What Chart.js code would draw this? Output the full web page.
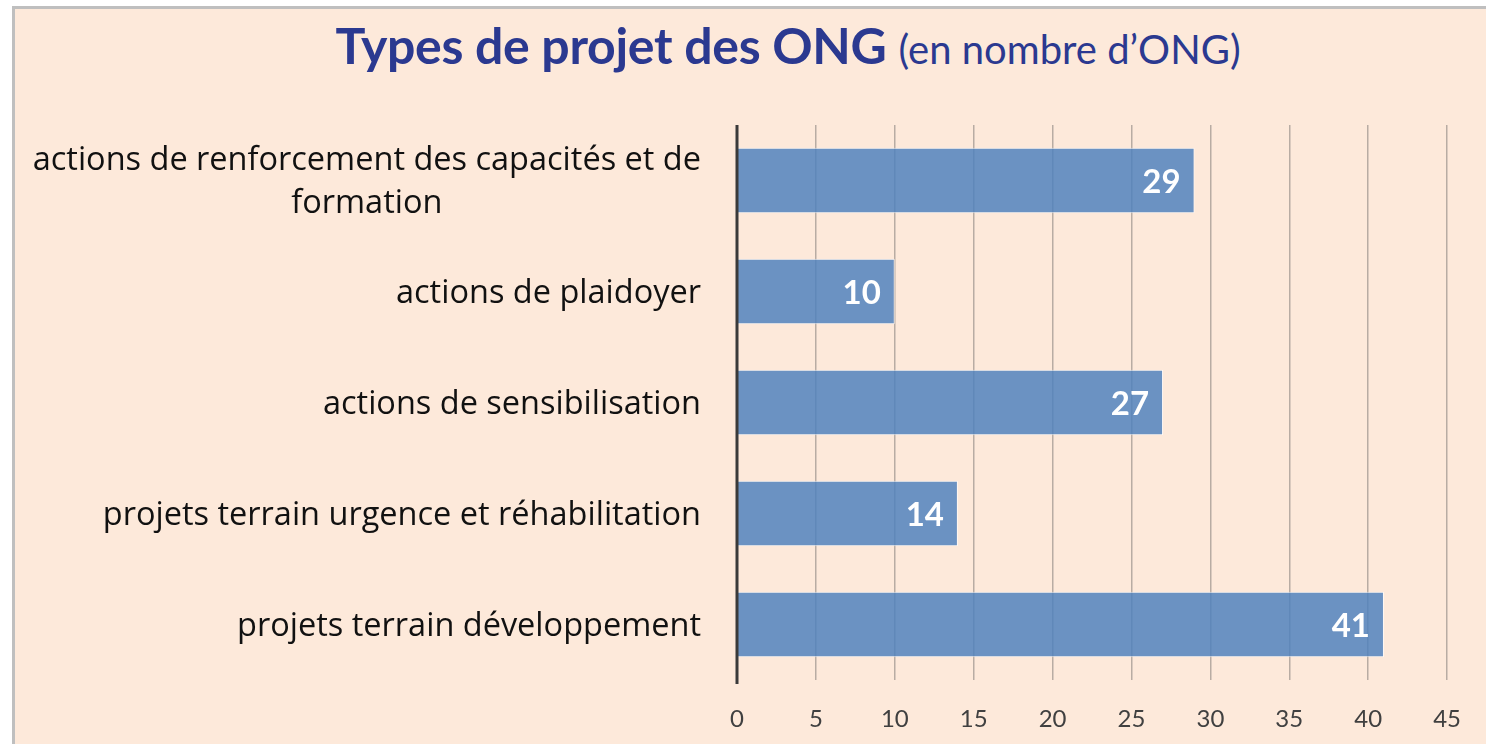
<!DOCTYPE html>
<html>
<head>
<meta charset="utf-8">
<script src="https://cdn.jsdelivr.net/npm/chart.js@4"></script>
<style>
  body { margin: 0; background: #fff; width: 1486px; height: 744px; overflow: hidden; position: relative; }
  #frame { position: absolute; left: 12px; top: 6px; right: 0; bottom: 0; background: #fde9da;
           border-left: 3px solid #bfbfbf; border-top: 3px solid #bfbfbf; }
  #title { position: absolute; left: 90px; width: 1396px; top: 15px; text-align: center; color: #2b3990;
           font-family: Lato, sans-serif; white-space: nowrap; }
  #title b { font-size: 50px; font-weight: 700; letter-spacing: -0.3px; }
  #title span { font-size: 40px; font-weight: 400; margin-left: 8px; }
  #barChart { position: absolute; left: 0; top: 0; }
</style>
</head>
<body>
<div id="frame"></div>
<div id="title"><b>Types de projet des ONG</b> <span>(en nombre d’ONG)</span></div>
<canvas id="barChart" width="1486" height="744"></canvas>
<script>
// categories top to bottom
var categories = [
  ['actions de renforcement des capacités et de', 'formation'],
  'actions de plaidoyer',
  'actions de sensibilisation',
  'projets terrain urgence et réhabilitation',
  'projets terrain développement'
];
var ongCounts = [29, 10, 27, 14, 41];
var xTicks = [0, 5, 10, 15, 20, 25, 30, 35, 40, 45];

var labelFont = '32.5px "Open Sans", sans-serif';

// category labels: block right aligned, lines centered inside the block (like Excel)
var catLabels = {
  id: 'catLabels',
  afterDraw: function(chart) {
    var ctx = chart.ctx, y = chart.scales.y;
    ctx.save();
    ctx.font = labelFont;
    ctx.fillStyle = '#111111';
    ctx.textAlign = 'center';
    ctx.textBaseline = 'middle';
    var lineH = 43, right = 701;
    categories.forEach(function(c, i) {
      var lines = Array.isArray(c) ? c : [c];
      var w = Math.max.apply(null, lines.map(function(l) { return ctx.measureText(l).width; }));
      var cy = y.getPixelForTick(i) + 2;
      var y0 = cy - (lines.length - 1) * lineH / 2;
      lines.forEach(function(l, k) { ctx.fillText(l, right - w / 2, y0 + k * lineH); });
    });
    ctx.restore();
  }
};

// white value labels at the inner end of the bars
var valueLabels = {
  id: 'valueLabels',
  afterDatasetsDraw: function(chart) {
    var ctx = chart.ctx;
    ctx.save();
    ctx.font = 'bold 33px Lato, sans-serif';
    ctx.fillStyle = '#ffffff';
    ctx.textAlign = 'right';
    ctx.textBaseline = 'middle';
    chart.getDatasetMeta(0).data.forEach(function(bar, i) {
      ctx.fillText(ongCounts[i], bar.x - 14, bar.y + 2);
    });
    ctx.restore();
  }
};

// dark left axis line
var axisLine = {
  id: 'axisLine',
  afterDatasetsDraw: function(chart) {
    var a = chart.chartArea, ctx = chart.ctx;
    ctx.save();
    ctx.strokeStyle = '#3a3a3a';
    ctx.lineWidth = 3;
    ctx.beginPath();
    ctx.moveTo(a.left, a.top);
    ctx.lineTo(a.left, a.bottom + 4);
    ctx.stroke();
    ctx.restore();
  }
};

new Chart(document.getElementById('barChart'), {
  type: 'bar',
  data: {
    labels: categories,
    datasets: [{
      data: ongCounts,
      backgroundColor: 'rgba(79,129,189,0.84)',
      borderColor: 'rgba(255,255,255,0.7)',
      borderWidth: 1,
      categoryPercentage: 1,
      barPercentage: 0.59
    }]
  },
  options: {
    indexAxis: 'y',
    responsive: false,
    animation: false,
    layout: { padding: { top: 125, right: 36, left: 0, bottom: 0 } },
    plugins: { legend: { display: false }, tooltip: { enabled: false }, title: { display: false } },
    scales: {
      x: {
        min: 0, max: 45,
        afterBuildTicks: function(s) { s.ticks = xTicks.map(function(v) { return { value: v }; }); },
        afterFit: function(s) { s.height = 64; },
        grid: { color: '#b8aca3', lineWidth: 1.5, drawTicks: false },
        border: { display: false },
        ticks: { color: '#404040', font: { family: 'Lato, sans-serif', size: 24 }, padding: 25 }
      },
      y: {
        afterFit: function(s) { s.width = 737; },
        grid: { display: false },
        border: { display: false },
        ticks: { display: false }
      }
    }
  },
  plugins: [catLabels, valueLabels, axisLine]
});
</script>
</body>
</html>
